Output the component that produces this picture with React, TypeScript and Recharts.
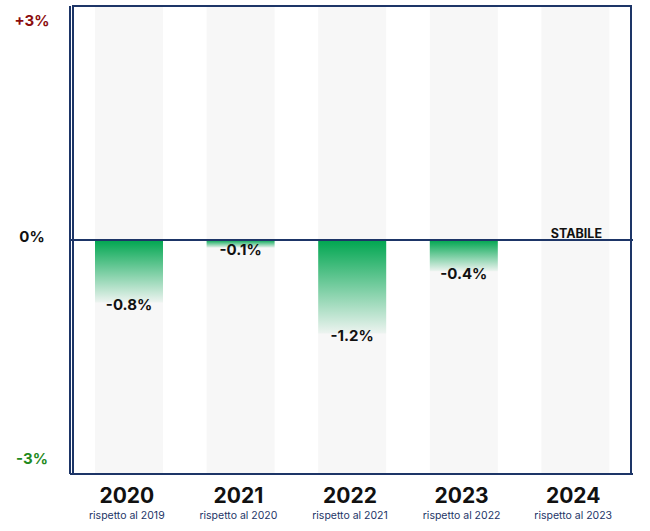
import React from 'react';
import { Bar, BarChart, LabelList, ReferenceArea, ReferenceLine, XAxis, YAxis } from 'recharts';

const years = ['2020', '2021', '2022', '2023', '2024'];
const comparedTo = ['rispetto al 2019', 'rispetto al 2020', 'rispetto al 2021', 'rispetto al 2022', 'rispetto al 2023'];
const changes = [-0.8, -0.1, -1.2, -0.4, 0];
const yTicks = [-3, 0, 3];
const yTickLabels: Record<number, string> = { 3: '+3%', 0: '0%', [-3]: '-3%' };

const data = years.map((year, i) => ({ year, sub: comparedTo[i], value: changes[i] }));

const NAVY = '#1d3567';
const FONT = 'Inter, "Liberation Sans", Arial, sans-serif';

const YTick = (props: any) => {
  const { x, y, payload } = props;
  const v = payload.value;
  const color = v > 0 ? '#8b0d0d' : v < 0 ? '#1f8a22' : '#111111';
  const dy = v > 0 ? 14 : v < 0 ? -16 : -4;
  return (
    <text
      x={x - 30}
      y={y + dy}
      textAnchor="middle"
      dominantBaseline="central"
      fill={color}
      fontFamily={FONT}
      fontWeight={700}
      fontSize={15}
    >
      {yTickLabels[v]}
    </text>
  );
};

const XTick = (props: any) => {
  const { x, y, payload, index } = props;
  return (
    <g>
      <text
        x={x - 2}
        y={y + 13}
        textAnchor="middle"
        dominantBaseline="central"
        fill="#111111"
        fontFamily={FONT}
        fontWeight={700}
        fontSize={21}
      >
        {payload.value}
      </text>
      <text
        x={x - 2}
        y={y + 33}
        textAnchor="middle"
        dominantBaseline="central"
        fill={NAVY}
        fontFamily={FONT}
        fontSize={10.5}
      >
        {comparedTo[index]}
      </text>
    </g>
  );
};

const ValueLabel = (props: any) => {
  const { x, y, width, height, value } = props;
  const cx = x + width / 2;
  if (value === 0) {
    return (
      <text
        x={cx + 1}
        y={y - 6}
        textAnchor="middle"
        dominantBaseline="central"
        fill="#111111"
        fontFamily={FONT}
        fontWeight={700}
        fontSize={12.5}
      >
        STABILE
      </text>
    );
  }
  const bottom = Math.max(y, y + height);
  return (
    <text
      x={cx}
      y={bottom + 2}
      textAnchor="middle"
      dominantBaseline="central"
      fill="#111111"
      fontFamily={FONT}
      fontWeight={700}
      fontSize={15}
    >
      {`${value.toFixed(1)}%`}
    </text>
  );
};

export default function App() {
  return (
    <div style={{ position: 'absolute', top: 0, left: 0 }}>
      <BarChart
        width={650}
        height={531}
        data={data}
        margin={{ top: 6, right: 17, left: 0, bottom: 0 }}
        barSize={68}
      >
        <defs>
          <linearGradient id="greenFade" x1="0" y1="0" x2="0" y2="1">
            <stop offset="0%" stopColor="#00a650" stopOpacity={1} />
            <stop offset="100%" stopColor="#00a650" stopOpacity={0.04} />
          </linearGradient>
        </defs>
        <XAxis
          dataKey="year"
          height={57}
          axisLine={{ stroke: NAVY, strokeWidth: 2 }}
          tickLine={false}
          tick={<XTick />}
          interval={0}
          padding={{ left: 3, right: 2 }}
        />
        <YAxis
          domain={[-3, 3]}
          ticks={yTicks}
          width={70}
          axisLine={{ stroke: NAVY, strokeWidth: 2 }}
          tickLine={false}
          tick={<YTick />}
          interval={0}
        />
        <Bar
          dataKey="value"
          fill="url(#greenFade)"
          background={{ fill: '#f7f7f7' }}
          minPointSize={(v: number) => (v === 0 ? 0.01 : 0)}
          isAnimationActive={false}
        >
          <LabelList dataKey="value" content={<ValueLabel />} />
        </Bar>
        <ReferenceLine y={0} stroke={NAVY} strokeWidth={2} />
        <ReferenceArea y1={-3} y2={3} fill="none" stroke={NAVY} strokeWidth={2} fillOpacity={0} />
      </BarChart>
    </div>
  );
}
